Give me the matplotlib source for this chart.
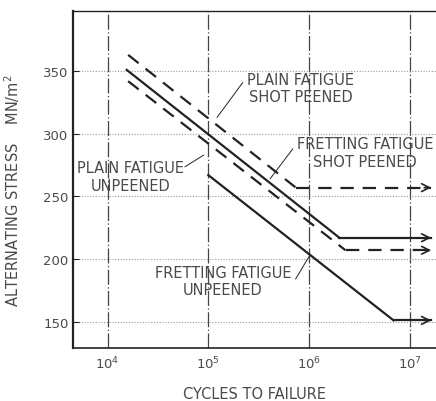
import numpy as np
import matplotlib
matplotlib.use('Agg')
import matplotlib.pyplot as plt

plt.rcParams['font.family'] = ['DejaVu Sans']

# S-N lines: sloping part, then a horizontal run ending with an arrow
plain_peened_N = [1.6e4, 7.4e5]
plain_peened_S = [363, 257]
plain_unpeened_N = [1.55e4, 2.0e6]
plain_unpeened_S = [351, 217]
fret_peened_N = [1.6e4, 2.3e6]
fret_peened_S = [342, 207]
fret_unpeened_N = [1.0e5, 6.9e6]
fret_unpeened_S = [267, 151]
arrow_end_N = 1.74e7

x_ticks = [1e4, 1e5, 1e6, 1e7]
x_ticklabels = ['10$^4$', '10$^5$', '10$^6$', '10$^7$']
y_ticks = [150, 200, 250, 300, 350]

# label text: (text, x, y) and leader line (start, end)
labels = [
    ('PLAIN FATIGUE\nSHOT PEENED', 8.2e5, 336.5, (2.2e5, 341), (1.22e5, 313)),
    ('FRETTING FATIGUE\nSHOT PEENED', 3.6e6, 285, (6.9e5, 288), (4.1e5, 264)),
    ('PLAIN FATIGUE\nUNPEENED', 1.7e4, 266, (5.85e4, 273.6), (9.0e4, 283)),
    ('FRETTING FATIGUE\nUNPEENED', 1.4e5, 182.4, (7.35e5, 184), (1.0e6, 202)),
]

ink = '#222222'
txt = '#4a4a4a'

fig = plt.figure(figsize=(4.36, 4.02), dpi=100)
ax = fig.add_axes([0.167, 0.132, 0.833, 0.838])
ax.set_xscale('log')
ax.set_xlim(10**3.655, 10**7.26)
ax.set_ylim(129, 398)

# grid
for xt in x_ticks:
    ax.axvline(xt, color='#444444', lw=0.9, ls=(0, (12, 2, 1, 2)), zorder=1)
for yt in y_ticks:
    ax.axhline(yt, color='#999999', lw=0.8, ls=(0, (1, 1.5)), zorder=1)

def sn_line(N, S, ls):
    ax.plot(N, S, color=ink, lw=1.6, ls=ls, zorder=3)
    ax.plot([N[1], arrow_end_N * 0.93], [S[1], S[1]], color=ink, lw=1.6, ls=ls, zorder=3)
    ax.annotate('', xy=(arrow_end_N, S[1]), xytext=(arrow_end_N * 0.75, S[1]),
                arrowprops=dict(arrowstyle='->', color=ink, lw=1.2,
                                mutation_scale=14), zorder=3)

dash = (0, (6, 4))
sn_line(plain_peened_N, plain_peened_S, dash)
sn_line(plain_unpeened_N, plain_unpeened_S, '-')
sn_line(fret_peened_N, fret_peened_S, dash)
sn_line(fret_unpeened_N, fret_unpeened_S, '-')

for text, tx, ty, p0, p1 in labels:
    ax.text(tx, ty, text, fontsize=10.5, color=txt, ha='center', va='center',
            linespacing=1.2, zorder=4)
    ax.annotate('', xy=p1, xytext=p0,
                arrowprops=dict(arrowstyle='-', color=ink, lw=0.7,
                                shrinkA=0, shrinkB=0))

ax.set_xticks(x_ticks)
ax.set_xticklabels(x_ticklabels)
ax.set_yticks(y_ticks)
ax.minorticks_off()
ax.tick_params(axis='x', length=0, pad=5, labelsize=9.5, labelcolor=txt)
ax.tick_params(axis='y', length=4, width=0.8, direction='in', pad=3, labelsize=9.5,
               labelcolor=txt, color=ink)

ax.set_xlabel('CYCLES TO FAILURE', fontsize=10.5, color=txt)
ax.xaxis.set_label_coords(0.5, -0.113)
ax.set_ylabel('ALTERNATING STRESS    MN/m$^2$', fontsize=10.5, color=txt)
ax.yaxis.set_label_coords(-0.14, 0.47)

ax.spines['right'].set_visible(False)
ax.spines['left'].set_linewidth(1.6)
ax.spines['left'].set_color(ink)
ax.spines['top'].set_linewidth(1.0)
ax.spines['top'].set_color(ink)
ax.spines['bottom'].set_linewidth(1.2)
ax.spines['bottom'].set_color(ink)

fig.savefig('out.png', dpi=100)
